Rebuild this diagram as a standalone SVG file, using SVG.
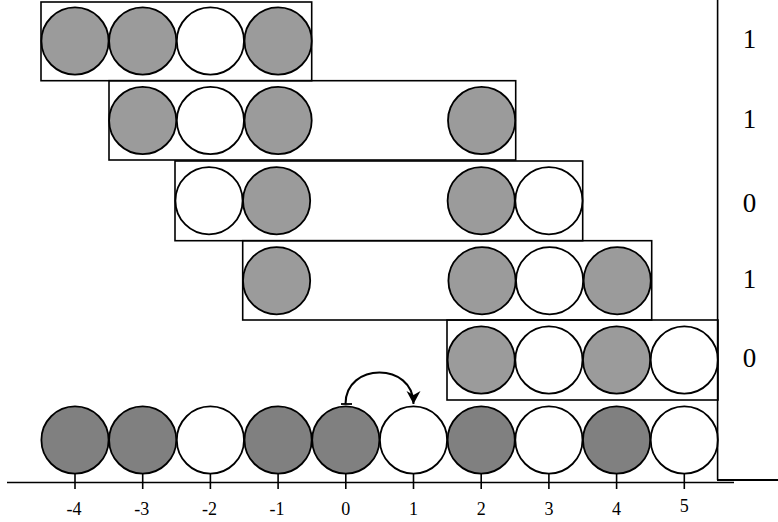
<svg xmlns="http://www.w3.org/2000/svg" width="778" height="522" viewBox="0 0 778 522">
<style>
.box{fill:none;stroke:#000;stroke-width:1.6}
.g{fill:#9b9b9b;stroke:#000;stroke-width:1.8}
.w{fill:#fff;stroke:#000;stroke-width:1.8}
.d{fill:#808080;stroke:#000;stroke-width:1.8}
.ln{stroke:#000;stroke-width:1.6;fill:none}
.lab{font-family:"Liberation Serif","DejaVu Serif",serif;font-size:18px;text-anchor:middle;fill:#000}
.rl{font-family:"Liberation Serif","DejaVu Serif",serif;font-size:27px;text-anchor:middle;fill:#000}
</style>
<defs>
<marker id="ah" markerWidth="16" markerHeight="16" refX="14" refY="7" orient="auto" markerUnits="userSpaceOnUse">
<path d="M14,7 L1,0 L5,7 L1,14 Z" fill="#000"/>
</marker>
</defs>
<rect width="778" height="522" fill="#fff"/>
<g id="row1">
<rect class="box" x="41" y="2" width="270.7" height="78.7"/>
<circle class="g" cx="75" cy="41" r="33.6"/>
<circle class="g" cx="142.7" cy="41" r="33.6"/>
<circle class="w" cx="210.4" cy="41" r="33.6"/>
<circle class="g" cx="278.1" cy="41" r="33.6"/>
</g>
<g id="row2">
<rect class="box" x="109" y="80.7" width="406.7" height="79.3"/>
<circle class="g" cx="142.7" cy="120.5" r="33.6"/>
<circle class="w" cx="210.4" cy="120.5" r="33.6"/>
<circle class="g" cx="278.1" cy="120.5" r="33.6"/>
<circle class="g" cx="481.6" cy="120.5" r="33.6"/>
</g>
<g id="row3">
<rect class="box" x="175" y="161" width="407.7" height="79.7"/>
<circle class="w" cx="209" cy="200.7" r="33.6"/>
<circle class="g" cx="276.6" cy="200.7" r="33.6"/>
<circle class="g" cx="481.2" cy="200.7" r="33.6"/>
<circle class="w" cx="548.9" cy="200.7" r="33.6"/>
</g>
<g id="row4">
<rect class="box" x="242.7" y="240.7" width="409" height="79.3"/>
<circle class="g" cx="276.6" cy="280.7" r="33.6"/>
<circle class="g" cx="482" cy="280.7" r="33.6"/>
<circle class="w" cx="549.6" cy="280.7" r="33.6"/>
<circle class="g" cx="617.2" cy="280.7" r="33.6"/>
</g>
<g id="row5">
<rect class="box" x="447" y="320" width="271" height="80"/>
<circle class="g" cx="481.2" cy="360" r="33.6"/>
<circle class="w" cx="548.9" cy="360" r="33.6"/>
<circle class="g" cx="616.6" cy="360" r="33.6"/>
<circle class="w" cx="684.3" cy="360" r="33.6"/>
</g>
<g id="bottom-row">
<circle class="d" cx="75" cy="440" r="33.6"/>
<circle class="d" cx="142.7" cy="440" r="33.6"/>
<circle class="w" cx="210.4" cy="440" r="33.6"/>
<circle class="d" cx="278.1" cy="440" r="33.6"/>
<circle class="d" cx="345.8" cy="440" r="33.6"/>
<circle class="w" cx="413.5" cy="440" r="33.6"/>
<circle class="d" cx="481.2" cy="440" r="33.6"/>
<circle class="w" cx="548.9" cy="440" r="33.6"/>
<circle class="d" cx="616.6" cy="440" r="33.6"/>
<circle class="w" cx="684.3" cy="440" r="33.6"/>
</g>
<g id="frame">
<line class="ln" x1="717.6" y1="0" x2="717.6" y2="480"/>
<line x1="717" y1="480" x2="778" y2="480" stroke="#000" stroke-width="2"/>
</g>
<g id="axis">
<line class="ln" x1="7" y1="482.5" x2="734" y2="482.5"/>
<g class="ln">
<line x1="75" y1="474" x2="75" y2="489"/>
<line x1="142.7" y1="474" x2="142.7" y2="489"/>
<line x1="210.4" y1="474" x2="210.4" y2="489"/>
<line x1="278.1" y1="474" x2="278.1" y2="489"/>
<line x1="345.8" y1="474" x2="345.8" y2="489"/>
<line x1="413.5" y1="474" x2="413.5" y2="489"/>
<line x1="481.2" y1="474" x2="481.2" y2="489"/>
<line x1="548.9" y1="474" x2="548.9" y2="489"/>
<line x1="616.6" y1="474" x2="616.6" y2="489"/>
<line x1="684.3" y1="474" x2="684.3" y2="489"/>
</g>
<text class="lab" x="74" y="515">-4</text>
<text class="lab" x="141.7" y="515">-3</text>
<text class="lab" x="209.4" y="515">-2</text>
<text class="lab" x="277.1" y="515">-1</text>
<text class="lab" x="345.8" y="515">0</text>
<text class="lab" x="413.5" y="515">1</text>
<text class="lab" x="481.2" y="515">2</text>
<text class="lab" x="548.9" y="515">3</text>
<text class="lab" x="616.6" y="515">4</text>
<text class="lab" x="684.3" y="512">5</text>
</g>
<g id="right-labels">
<text class="rl" x="749.5" y="48">1</text>
<text class="rl" x="749.5" y="127.5">1</text>
<text class="rl" x="749.5" y="211.5">0</text>
<text class="rl" x="749.5" y="287.5">1</text>
<text class="rl" x="749.5" y="367">0</text>
</g>
<g id="connectors">
<line x1="341" y1="404" x2="352" y2="404" stroke="#000" stroke-width="1.8"/>
<path d="M345.5,404 C345.5,362 413.5,362 413.5,404" fill="none" stroke="#000" stroke-width="2" marker-end="url(#ah)"/>
</g>
</svg>
